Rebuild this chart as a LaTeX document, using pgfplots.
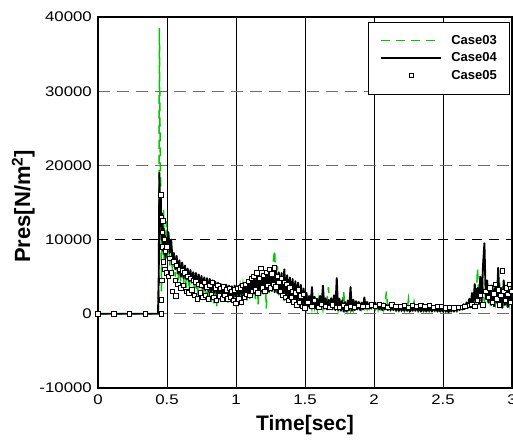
\documentclass[border=0pt]{standalone}
\usepackage{fontspec}
\setmainfont{Liberation Sans}
\newfontfamily\tickfont{Liberation Sans}[FakeStretch=1.2]
\usepackage{pgfplots}
\pgfplotsset{compat=1.18}
\usepackage{pgfplotstable}
\definecolor{cgreen}{RGB}{0,200,0}
\definecolor{cgrid}{RGB}{110,110,110}
\pgfplotsset{
  mylinelegend/.style={legend image code/.code={\draw[##1] (0bp,0bp) -- (60bp,0bp);}},
  mymarklegend/.style={legend image code/.code={\draw[mark repeat=2,mark phase=2,##1] plot coordinates {(0bp,0bp) (30bp,0bp) (60bp,0bp)};}},
}

\pgfplotstableread{
x y
0 0
0.435 0
0.44 2000
0.445 38500
0.448 28000
0.45 24000
0.452 20000
0.455 16000
0.46 3000
0.465 12000
0.47 9000
0.475 14000
0.48 7000
0.485 11000
0.49 8000
0.495 12500
0.50 7500
0.51 10500
0.52 6500
0.53 9500
0.54 5500
0.55 8000
0.56 5000
0.57 7500
0.58 4500
0.59 7000
0.60 4200
0.61 6500
0.62 4000
0.63 6200
0.64 3500
0.65 5800
0.66 3200
0.67 5500
0.68 3000
0.69 5300
0.70 2800
0.71 5000
0.72 2500
0.73 4800
0.74 2300
0.75 4600
0.76 2200
0.77 4500
0.78 2000
0.79 4400
0.80 1800
0.81 4200
0.82 1600
0.83 4000
0.84 1400
0.85 3900
0.86 1000
0.87 3800
0.88 1500
0.89 3700
0.90 1800
0.91 3600
0.92 1500
0.93 3500
0.94 1200
0.95 3400
0.96 1600
0.97 3500
0.98 1400
0.99 3600
1.00 1000
1.01 3500
1.02 1800
1.03 3700
1.04 2000
1.05 3900
1.06 2100
1.07 4100
1.08 1800
1.09 4300
1.10 2000
1.11 4600
1.12 2200
1.13 4800
1.14 2000
1.15 5000
1.16 1200
1.17 5200
1.18 2500
1.19 5400
1.20 2600
1.21 5600
1.22 700
1.23 5800
1.24 2800
1.25 6500
1.26 2600
1.27 7000
1.28 8600
1.29 3000
1.30 6500
1.31 2500
1.32 5500
1.33 2200
1.34 5200
1.35 1500
1.36 4800
1.37 1800
1.38 4600
1.39 1600
1.40 4300
1.41 1500
1.42 4000
1.43 1400
1.44 3800
1.45 1200
1.46 3500
1.47 1000
1.48 3000
1.49 900
1.50 2600
1.51 800
1.52 2200
1.53 900
1.54 1900
1.55 700
1.56 2100
1.57 800
1.58 1800
1.59 600
1.60 2000
1.61 700
1.62 1800
1.63 600
1.64 2200
1.65 500
1.66 2000
1.67 3600
1.68 600
1.69 1700
1.70 500
1.71 1600
1.72 400
1.73 2000
1.74 500
1.75 1600
1.76 400
1.77 1500
1.78 3000
1.79 500
1.80 1400
1.81 400
1.82 1500
1.83 500
1.84 1300
1.85 500
1.86 1400
1.87 600
1.88 1300
1.89 500
1.90 1200
1.91 600
1.92 1300
1.93 700
1.94 1200
1.95 600
1.96 1300
1.97 700
1.98 1200
1.99 600
2.00 1100
2.01 600
2.02 1200
2.03 500
2.04 1100
2.05 600
2.06 1200
2.07 500
2.08 1300
2.09 3000
2.10 600
2.11 1200
2.12 500
2.13 1000
2.14 400
2.15 1000
2.16 500
2.17 900
2.18 400
2.19 1000
2.20 500
2.21 900
2.22 400
2.23 1000
2.24 500
2.25 2000
2.26 400
2.27 900
2.28 500
2.29 1600
2.30 400
2.31 900
2.32 300
2.33 800
2.34 400
2.35 900
2.36 300
2.37 800
2.38 400
2.39 700
2.40 300
2.41 800
2.42 300
2.43 700
2.44 400
2.45 800
2.46 300
2.47 700
2.48 400
2.49 800
2.50 300
2.51 700
2.52 300
2.53 600
2.54 300
2.55 700
2.56 300
2.57 600
2.58 400
2.59 700
2.60 300
2.61 800
2.62 500
2.63 900
2.64 600
2.65 1200
2.66 700
2.67 1400
2.68 900
2.69 1800
2.70 1100
2.71 2500
2.72 1300
2.73 3500
2.74 1600
2.75 6100
2.76 2000
2.77 4500
2.78 1800
2.79 3500
2.80 1500
2.81 3000
2.82 1400
2.83 2800
2.84 1600
2.85 3200
2.86 1300
2.87 2600
2.88 1400
2.89 3000
2.90 1200
2.91 4200
2.92 1400
2.93 2800
2.94 1000
2.95 3000
2.96 1500
2.97 2500
2.98 1300
2.99 3000
3.00 2200
}\caseA

\pgfplotstableread{
x y
0 0
0.435 0
0.44 5000
0.445 19000
0.45 12000
0.455 16000
0.46 10000
0.465 13500
0.47 8500
0.475 11500
0.48 8000
0.485 10500
0.49 7500
0.495 9500
0.50 8500
0.51 11000
0.52 8200
0.53 10000
0.54 7200
0.55 8200
0.56 6000
0.57 7800
0.58 5400
0.59 7200
0.60 5000
0.61 6900
0.62 4800
0.63 6500
0.64 4600
0.65 6100
0.66 4400
0.67 5900
0.68 4200
0.69 5600
0.70 4000
0.71 5500
0.72 3800
0.73 5300
0.74 3600
0.75 5100
0.76 3400
0.77 4900
0.78 3200
0.79 4800
0.80 3000
0.81 4700
0.82 2900
0.83 4500
0.84 2800
0.85 4300
0.86 2700
0.87 4200
0.88 2600
0.89 4000
0.90 2500
0.91 3900
0.92 2400
0.93 3900
0.94 2300
0.95 3800
0.96 2300
0.97 3700
0.98 2200
0.99 3800
1.00 2300
1.01 3700
1.02 2300
1.03 3900
1.04 2400
1.05 4000
1.06 2500
1.07 4200
1.08 2500
1.09 4400
1.10 2600
1.11 4600
1.12 2700
1.13 4800
1.14 2800
1.15 5000
1.16 2900
1.17 5200
1.18 3000
1.19 5400
1.20 3000
1.21 5600
1.22 3100
1.23 5800
1.24 3000
1.25 6100
1.26 3100
1.27 5900
1.28 2900
1.29 5800
1.30 2800
1.31 5600
1.32 2700
1.33 5500
1.34 2500
1.35 6000
1.36 2300
1.37 5200
1.38 2100
1.39 4900
1.40 2000
1.41 4700
1.42 1800
1.43 4400
1.44 1700
1.45 4200
1.46 1500
1.47 3900
1.48 1300
1.49 3400
1.50 1000
1.51 2800
1.52 900
1.53 2400
1.54 800
1.55 3600
1.56 1000
1.57 2300
1.58 700
1.59 2000
1.60 800
1.61 2400
1.62 900
1.63 3800
1.64 700
1.65 2100
1.66 600
1.67 1900
1.68 700
1.69 2100
1.70 600
1.71 2500
1.72 500
1.73 4800
1.74 500
1.75 2000
1.76 400
1.77 1800
1.78 300
1.79 1600
1.80 300
1.81 1800
1.82 500
1.83 3600
1.84 400
1.85 1900
1.86 500
1.87 1700
1.88 600
1.89 1600
1.90 500
1.91 1500
1.92 600
1.93 2200
1.94 700
1.95 1600
1.96 700
1.97 1500
1.98 700
1.99 1400
2.00 800
2.01 1500
2.02 700
2.03 1300
2.04 600
2.05 1300
2.06 500
2.07 1400
2.08 600
2.09 1200
2.10 500
2.11 1200
2.12 500
2.13 1100
2.14 500
2.15 1200
2.16 400
2.17 1100
2.18 400
2.19 1000
2.20 400
2.21 1100
2.22 400
2.23 1000
2.24 400
2.25 900
2.26 300
2.27 1000
2.28 400
2.29 900
2.30 400
2.31 1000
2.32 400
2.33 900
2.34 300
2.35 900
2.36 400
2.37 800
2.38 300
2.39 900
2.40 400
2.41 800
2.42 300
2.43 900
2.44 400
2.45 800
2.46 300
2.47 800
2.48 300
2.49 700
2.50 300
2.51 800
2.52 300
2.53 700
2.54 200
2.55 700
2.56 300
2.57 800
2.58 300
2.59 700
2.60 400
2.61 900
2.62 500
2.63 1000
2.64 600
2.65 1300
2.66 700
2.67 1500
2.68 800
2.69 2000
2.70 1000
2.71 2800
2.72 1200
2.73 4000
2.74 1500
2.75 3500
2.76 1300
2.77 5000
2.78 1600
2.79 6500
2.80 9500
2.81 2000
2.82 4500
2.83 1500
2.84 3800
2.85 1200
2.86 3500
2.87 1000
2.88 4000
2.89 1500
2.90 6200
2.91 1300
2.92 3500
2.93 800
2.94 4500
2.95 1200
2.96 3800
2.97 900
2.98 3200
2.99 1500
3.00 4000
}\caseB

\pgfplotstableread{
x y
0 0
0.1145 0
0.229 0
0.3435 0
0.458 0
0.455 16000
0.458 1900
0.46 13000
0.462 4500
0.465 11000
0.468 9000
0.47 12500
0.475 7000
0.48 10000
0.485 6000
0.49 8500
0.495 5500
0.50 9000
0.51 5000
0.52 7500
0.53 5500
0.54 3000
0.55 7000
0.56 4500
0.565 2400
0.57 6500
0.58 4000
0.59 6000
0.60 3500
0.61 5800
0.62 3800
0.63 5500
0.64 3000
0.65 5000
0.66 2800
0.67 4800
0.68 3200
0.69 4500
0.70 2500
0.71 4300
0.72 2000
0.73 4000
0.74 2800
0.75 3800
0.76 2200
0.77 4200
0.78 2500
0.79 3600
0.80 2000
0.81 3800
0.82 2600
0.83 4200
0.84 2200
0.85 3500
0.86 1800
0.87 3800
0.88 2400
0.89 3400
0.90 2000
0.91 3600
0.92 2500
0.93 3200
0.94 2000
0.95 3400
0.96 2200
0.97 3000
0.98 1800
0.99 3200
1.00 1400
1.01 3400
1.02 2000
1.03 3500
1.04 1500
1.05 3800
1.06 2200
1.07 4000
1.08 2600
1.09 4400
1.10 2500
1.11 4800
1.12 3000
1.13 5000
1.14 3200
1.15 5500
1.16 2800
1.17 4800
1.18 6100
1.19 3500
1.20 5200
1.21 3000
1.22 5600
1.23 3800
1.24 6000
1.25 3500
1.26 5400
1.27 4000
1.28 6200
1.29 3600
1.30 5000
1.31 4200
1.32 3000
1.33 4800
1.34 2500
1.35 4200
1.36 2200
1.37 4000
1.38 1800
1.39 3500
1.40 2200
1.41 3000
1.42 1600
1.43 2800
1.44 1200
1.45 3200
1.46 1500
1.47 2400
1.48 1000
1.49 2600
1.50 800
1.52 1500
1.55 1000
1.57 1800
1.60 900
1.62 1300
1.65 1000
1.68 900
1.70 1200
1.73 900
1.75 900
1.78 1100
1.80 800
1.83 1000
1.86 900
1.89 1100
1.92 1000
1.95 1000
1.98 1200
2.01 1000
2.04 1300
2.07 1100
2.10 900
2.13 1200
2.16 1000
2.19 1000
2.22 1100
2.25 900
2.28 1100
2.31 1000
2.34 1100
2.37 1000
2.40 1100
2.43 900
2.46 1000
2.49 1000
2.52 800
2.55 900
2.58 800
2.61 900
2.64 900
2.66 1000
2.69 1100
2.71 1300
2.73 1000
2.75 1800
2.77 2500
2.79 1200
2.81 3000
2.83 2200
2.84 3500
2.86 1500
2.87 2700
2.88 4000
2.89 2000
2.90 3200
2.91 1200
2.92 2500
2.93 5800
2.94 3000
2.95 1800
2.96 3500
2.97 2600
2.98 4000
2.99 1500
3.00 3000
}\caseC

\begin{document}
\begin{tikzpicture}
\path[use as bounding box] (0,0) rectangle (513bp,440bp);
\begin{axis}[
  at={(98bp,52bp)}, anchor=south west,
  scale only axis, width=414bp, height=371bp,
  xmin=0, xmax=3, ymin=-10000, ymax=40000,
  xtick={0,0.5,1,1.5,2,2.5,3},
  xticklabels={0,0.5,1,1.5,2,2.5,3},
  ytick={-10000,0,20000,30000,40000},
  yticklabels={-10000,0,20000,30000,40000},
  extra y ticks={10000},
  extra y tick labels={10000},
  extra y tick style={every axis y grid/.style={black, line width=1.2bp, dash pattern=on 10bp off 7bp}},
  scaled y ticks=false, scaled x ticks=false,
  major tick length=0pt,
  grid=major,
  every axis x grid/.style={black, line width=0.8bp, solid},
  every axis y grid/.style={cgrid, line width=1.3bp, dash pattern=on 12bp off 7bp},
  axis line style={line width=2bp},
  tick label style={font=\tickfont\fontsize{14bp}{16bp}\selectfont, inner sep=0pt},
  yticklabel style={anchor=east, xshift=-6bp},
  xticklabel style={anchor=north, yshift=-7bp},
  /pgf/number format/assume math mode=true,
  xlabel={Time[sec]},
  ylabel={Pres[N/m\textsuperscript{2}]},
  label style={font=\bfseries\fontsize{21bp}{24bp}\selectfont, inner sep=0pt},
  xlabel style={at={(rel axis cs:0.5,0)}, anchor=north, yshift=-27bp},
  ylabel style={font=\bfseries\fontsize{22bp}{24bp}\selectfont, at={(rel axis cs:0,0.49)}, anchor=south, yshift=63bp},
  legend style={at={(0.9928,0.9865)}, anchor=north east, draw=black,
    font=\bfseries\fontsize{13bp}{15bp}\selectfont, inner xsep=12bp, inner ysep=13bp,
    row sep=7bp, nodes={inner sep=0pt}, cells={anchor=west},
    /tikz/every odd column/.append style={column sep=9bp}},
  legend cell align=left,
  clip=true,
]
\addplot[cgreen, line width=1.5bp, dash pattern=on 9bp off 6bp, mylinelegend] table[x=x,y=y] {\caseA};
\addlegendentry{Case03}
\addplot[black, line width=1.9bp, line join=round, solid, mylinelegend] table[x=x,y=y] {\caseB};
\addlegendentry{Case04}
\addplot[only marks, mark=square*, mark size=2.2bp, mark options={fill=white, draw=black, line width=0.8bp, solid}, mymarklegend] table[x=x,y=y] {\caseC};
\addlegendentry{Case05}
\end{axis}
\end{tikzpicture}
\end{document}
